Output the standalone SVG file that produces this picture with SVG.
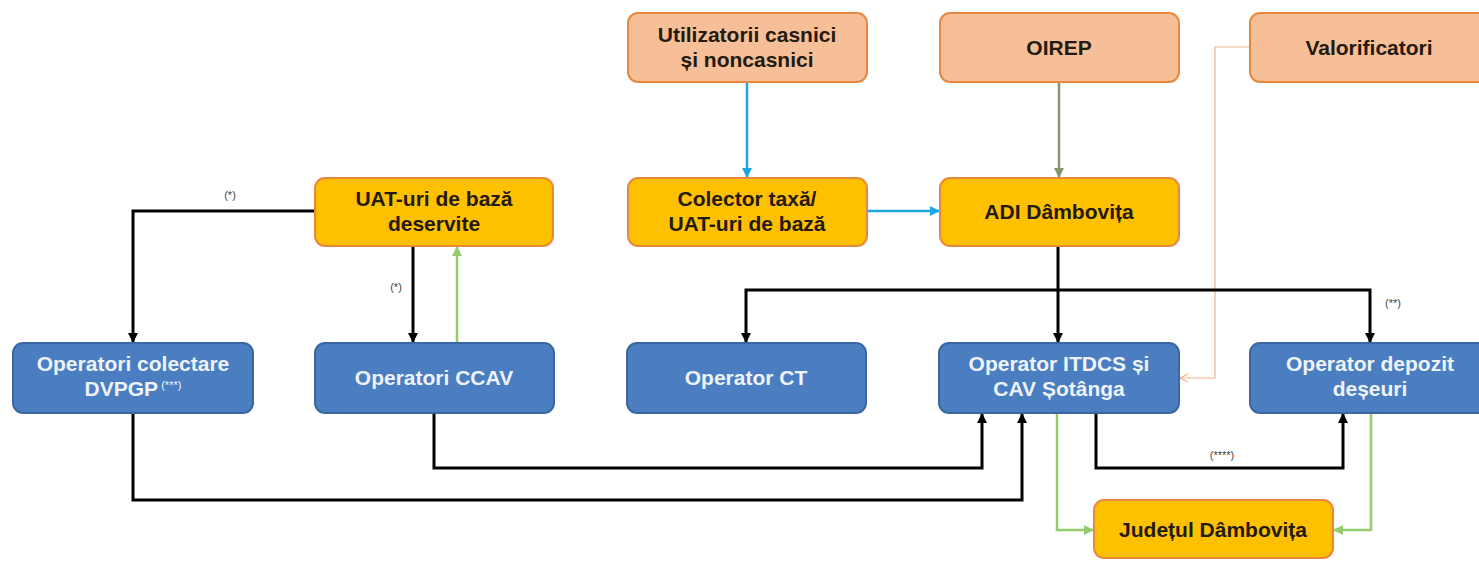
<svg xmlns="http://www.w3.org/2000/svg" width="1479" height="565" viewBox="0 0 1479 565">
<style>
.box{stroke-width:2}
.peach{fill:#F7BF98;stroke:#E8883E}
.yellow{fill:#FFC000;stroke:#E8883E}
.blue{fill:#4A7EC0;stroke:#3A679F}
text{font-family:"Liberation Sans",Arial,sans-serif;font-weight:bold;font-size:21px;text-anchor:middle}
.dark{fill:#231a10}
.light{fill:#EEF3FA}
.lbl{font-size:11px;font-weight:normal;fill:#444}
.sup{font-size:11px;font-weight:normal}
.k{fill:none;stroke:#000;stroke-width:3}
.bl{fill:none;stroke:#1EA6E0;stroke-width:2.5}
.ol{fill:none;stroke:#84966E;stroke-width:2.5}
.gr{fill:none;stroke:#94CC6E;stroke-width:2.5}
.pc{fill:none;stroke:#F2B38A;stroke-width:1.2}
</style>
<defs>
<marker id="ak" markerWidth="10" markerHeight="10" refX="9" refY="5" orient="auto" markerUnits="userSpaceOnUse"><path d="M0,0 L10,5 L0,10 Z" fill="#000"/></marker>
<marker id="ab" markerWidth="10" markerHeight="10" refX="9" refY="5" orient="auto" markerUnits="userSpaceOnUse"><path d="M0,0 L10,5 L0,10 Z" fill="#1EA6E0"/></marker>
<marker id="ao" markerWidth="10" markerHeight="10" refX="9" refY="5" orient="auto" markerUnits="userSpaceOnUse"><path d="M0,0 L10,5 L0,10 Z" fill="#84966E"/></marker>
<marker id="ag" markerWidth="10" markerHeight="10" refX="9" refY="5" orient="auto" markerUnits="userSpaceOnUse"><path d="M0,0 L10,5 L0,10 Z" fill="#94CC6E"/></marker>
<marker id="ap" markerWidth="10" markerHeight="10" refX="9" refY="5" orient="auto" markerUnits="userSpaceOnUse"><path d="M1,1 L9,5 L1,9" fill="none" stroke="#F2B38A" stroke-width="1.2"/></marker>
</defs>

<g id="connectors">
<path class="bl" d="M747 82 V177" marker-end="url(#ab)"/>
<path class="bl" d="M867 211 H939" marker-end="url(#ab)"/>
<path class="ol" d="M1059 82 V177" marker-end="url(#ao)"/>
<path class="pc" d="M1250 47 H1215 V378 H1180" marker-end="url(#ap)"/>
<path class="k" d="M1058 246 V342" marker-end="url(#ak)"/>
<path class="k" d="M1058 290 H746 V342" marker-end="url(#ak)"/>
<path class="k" d="M1058 290 H1370 V342" marker-end="url(#ak)"/>
<path class="k" d="M315 211 H133 V342" marker-end="url(#ak)"/>
<path class="k" d="M413 246 V342" marker-end="url(#ak)"/>
<path class="gr" d="M457 343 V247" marker-end="url(#ag)"/>
<path class="k" d="M434 413 V468 H982 V414" marker-end="url(#ak)"/>
<path class="k" d="M133 413 V500 H1022 V414" marker-end="url(#ak)"/>
<path class="k" d="M1096 413 V468 H1343 V414" marker-end="url(#ak)"/>
<path class="gr" d="M1057 413 V530 H1093" marker-end="url(#ag)"/>
<path class="gr" d="M1371 413 V530 H1334" marker-end="url(#ag)"/>
<text class="lbl" x="230" y="199">(*)</text>
<text class="lbl" x="396" y="291">(*)</text>
<text class="lbl" x="1393" y="307">(**)</text>
<text class="lbl" x="1222" y="459">(****)</text>
</g>

<g id="utilizatorii">
<rect class="box peach" x="628" y="13" width="239" height="69" rx="10"/>
<text class="dark" x="747" y="42">Utilizatorii casnici</text>
<text class="dark" x="747" y="67">și noncasnici</text>
</g>
<g id="oirep">
<rect class="box peach" x="940" y="13" width="239" height="69" rx="10"/>
<text class="dark" x="1059" y="55">OIREP</text>
</g>
<g id="valorificatori">
<rect class="box peach" x="1250" y="13" width="239" height="69" rx="10"/>
<text class="dark" x="1369" y="55">Valorificatori</text>
</g>

<g id="uat">
<rect class="box yellow" x="315" y="178" width="238" height="68" rx="10"/>
<text class="dark" x="434" y="206">UAT-uri de bază</text>
<text class="dark" x="434" y="231">deservite</text>
</g>
<g id="colector">
<rect class="box yellow" x="628" y="178" width="239" height="68" rx="10"/>
<text class="dark" x="747" y="206">Colector taxă/</text>
<text class="dark" x="747" y="231">UAT-uri de bază</text>
</g>
<g id="adi">
<rect class="box yellow" x="940" y="178" width="239" height="68" rx="10"/>
<text class="dark" x="1059" y="219">ADI Dâmbovița</text>
</g>

<g id="dvpgp">
<rect class="box blue" x="13" y="343" width="240" height="70" rx="10"/>
<text class="light" x="133" y="371">Operatori colectare</text>
<text class="light" x="133" y="396">DVPGP<tspan class="sup" dy="-7"> (***)</tspan></text>
</g>
<g id="ccav">
<rect class="box blue" x="315" y="343" width="239" height="70" rx="10"/>
<text class="light" x="434" y="385">Operatori CCAV</text>
</g>
<g id="ct">
<rect class="box blue" x="627" y="343" width="239" height="70" rx="10"/>
<text class="light" x="746" y="385">Operator CT</text>
</g>
<g id="itdcs">
<rect class="box blue" x="939" y="343" width="240" height="70" rx="10"/>
<text class="light" x="1059" y="371">Operator ITDCS și</text>
<text class="light" x="1059" y="396">CAV Șotânga</text>
</g>
<g id="depozit">
<rect class="box blue" x="1250" y="343" width="240" height="70" rx="10"/>
<text class="light" x="1370" y="371">Operator depozit</text>
<text class="light" x="1370" y="396">deșeuri</text>
</g>

<g id="judetul">
<rect class="box yellow" x="1094" y="500" width="239" height="58" rx="10"/>
<text class="dark" x="1213" y="537">Județul Dâmbovița</text>
</g>
</svg>
